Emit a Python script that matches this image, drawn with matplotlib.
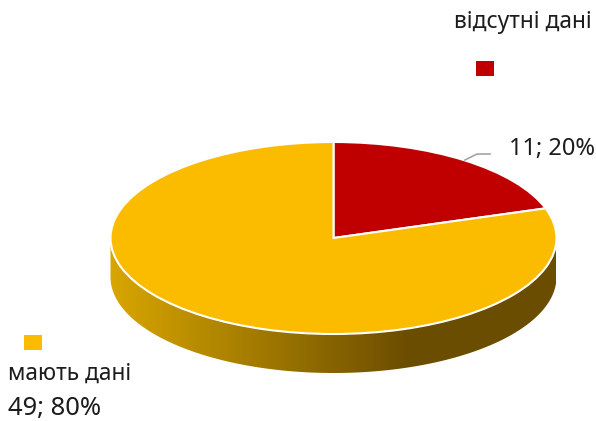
import matplotlib
matplotlib.use('Agg')
import matplotlib.pyplot as plt
import numpy as np
from matplotlib.colors import LinearSegmentedColormap
from matplotlib.lines import Line2D
from matplotlib.patches import Polygon, Rectangle

plt.rcParams['font.family'] = ['Noto Sans', 'DejaVu Sans']

# slice order is clockwise from 12 o'clock, as in the original
categories = ['відсутні дані', 'мають дані']
counts = [11, 49]
shares = [20, 80]
colors = ['#C00000', '#FBBC00']

W, H = 596, 421
CX, CY = 333.5, 238
RX, RY = 223, 96
DEPTH = 39 / RY
TEXT_COLOR = '#1c1c1c'


def fx(x):
    return x / W


def fy(y):
    return 1 - y / H


fig = plt.figure(figsize=(W / 100, H / 100), dpi=100)
ax = fig.add_axes([0, 0, 1, 1])
ax.pie(shares, colors=colors, startangle=90, counterclock=False, radius=1,
       wedgeprops={'edgecolor': 'white', 'linewidth': 1.5, 'zorder': 3})
ax.set_aspect('auto')
xlim = (-CX / RX, (W - CX) / RX)
ylim = ((CY - H) / RY, CY / RY)

# the side of the disc, a left to right gradient clipped to the rim
t = np.linspace(np.pi, 2 * np.pi, 200)
rim = np.column_stack([np.r_[np.cos(t), np.cos(t[::-1])],
                       np.r_[np.sin(t), np.sin(t[::-1]) - DEPTH]])
side = Polygon(rim, closed=True, facecolor='none', edgecolor='none',
               transform=ax.transData)
ax.add_patch(side)
cmap = LinearSegmentedColormap.from_list(
    'side', [(0, '#D8A600'), (0.67, '#6B4D00'), (1, '#6B4D00')])
img = ax.imshow(np.linspace(0, 1, 256).reshape(1, -1), cmap=cmap, aspect='auto',
                extent=(-1, 1, -1 - DEPTH, 0), zorder=1)
img.set_clip_path(side)
ax.set_xlim(xlim)
ax.set_ylim(ylim)
ax.axis('off')

# legend keys
for (x, y), c in zip([(476, 61), (24, 335)], colors):
    fig.add_artist(Rectangle((fx(x), fy(y + 15)), 18 / W, 15 / H, facecolor=c,
                             edgecolor='none', transform=fig.transFigure))

# leader line of the small slice
fig.add_artist(Line2D([fx(465), fx(477), fx(490)], [fy(160), fy(154), fy(154)],
                      color='#a6a6a6', lw=1.2, transform=fig.transFigure))

# labels
fig.text(fx(454), fy(22), categories[0], fontsize=16.4, color=TEXT_COLOR, va='center')
fig.text(fx(509), fy(149), f'{counts[0]}; {shares[0]}%', fontsize=17, color=TEXT_COLOR, va='center')
fig.text(fx(8), fy(374), categories[1], fontsize=16.4, color=TEXT_COLOR, va='center')
fig.text(fx(8), fy(408), f'{counts[1]}; {shares[1]}%', fontsize=18.4, color=TEXT_COLOR, va='center')

fig.savefig('out.png', dpi=100)
